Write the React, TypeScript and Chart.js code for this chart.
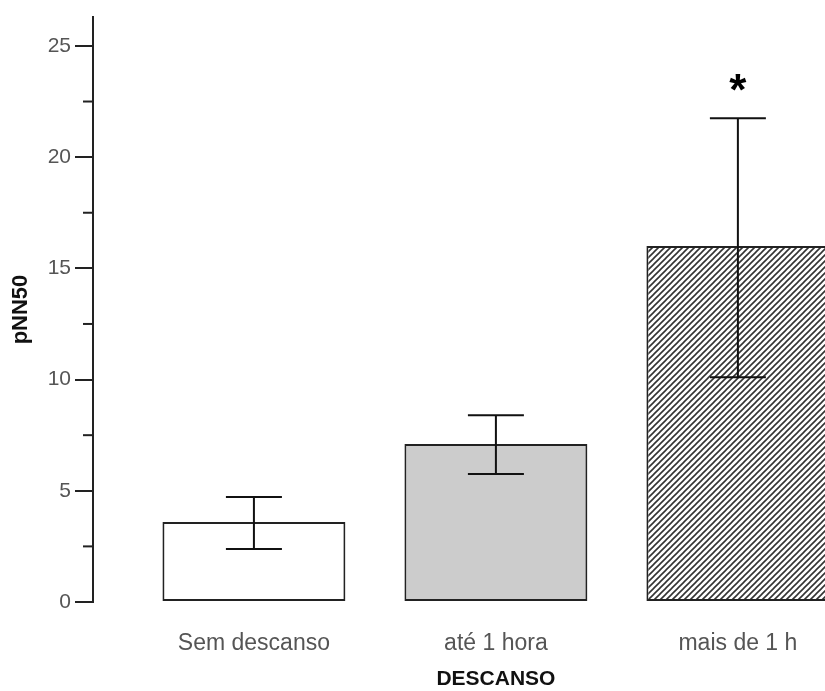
import React, { useEffect, useRef } from "react";
import { Chart, registerables } from "chart.js";

Chart.register(...registerables);

const categories = ["Sem descanso", "até 1 hora", "mais de 1 h"];
const means = [3.6, 7.1, 16.0];
const errLow = [2.38, 5.75, 10.1];
const errHigh = [4.72, 8.4, 21.75];
const significant = [false, false, true];
const majorTicks = [0, 5, 10, 15, 20, 25];
const minorTicks = [2.5, 7.5, 12.5, 17.5, 22.5];
const yTitle = "pNN50";
const xTitle = "DESCANSO";

const FONT = "'Liberation Sans', Arial, sans-serif";

function makeHatch(): CanvasPattern | string {
  const c = document.createElement("canvas");
  c.width = 6;
  c.height = 6;
  const g = c.getContext("2d");
  if (!g) return "#999";
  g.fillStyle = "#ffffff";
  g.fillRect(0, 0, 6, 6);
  g.strokeStyle = "#333333";
  g.lineWidth = 1.6;
  g.beginPath();
  g.moveTo(-1, 7);
  g.lineTo(7, -1);
  g.moveTo(-1, 1);
  g.lineTo(1, -1);
  g.moveTo(5, 7);
  g.lineTo(7, 5);
  g.stroke();
  const p = g.createPattern(c, "repeat");
  return p || "#999";
}

export default function App() {
  const ref = useRef<HTMLCanvasElement>(null);
  useEffect(() => {
    if (!ref.current) return;
    const hatch = makeHatch();
    const fills = ["#ffffff", "#cccccc", hatch];

    const extras = {
      id: "extras",
      afterDatasetsDraw(chart: any) {
        const ctx = chart.ctx;
        const xs = chart.scales.x;
        const ys = chart.scales.y;
        ctx.save();
        ctx.strokeStyle = "#222";
        ctx.lineWidth = 2;
        minorTicks.forEach((v) => {
          const py = ys.getPixelForValue(v);
          ctx.beginPath();
          ctx.moveTo(chart.chartArea.left - 10, py);
          ctx.lineTo(chart.chartArea.left, py);
          ctx.stroke();
        });
        ctx.strokeStyle = "#111";
        ctx.lineWidth = 2;
        means.forEach((_, i) => {
          const cx = xs.getPixelForValue(i);
          const yl = ys.getPixelForValue(errLow[i]);
          const yh = ys.getPixelForValue(errHigh[i]);
          ctx.beginPath();
          ctx.moveTo(cx, yl);
          ctx.lineTo(cx, yh);
          ctx.moveTo(cx - 28, yl);
          ctx.lineTo(cx + 28, yl);
          ctx.moveTo(cx - 28, yh);
          ctx.lineTo(cx + 28, yh);
          ctx.stroke();
          if (significant[i]) {
            ctx.fillStyle = "#000";
            ctx.font = `bold 44px ${FONT}`;
            ctx.textAlign = "center";
            ctx.textBaseline = "middle";
            ctx.fillText("*", cx, yh - 25);
          }
        });
        // x axis title, centred under the middle category
        ctx.fillStyle = "#111";
        ctx.font = `bold 21px ${FONT}`;
        ctx.textAlign = "center";
        ctx.textBaseline = "middle";
        ctx.fillText(xTitle, xs.getPixelForValue(1), xs.bottom - 12);
        ctx.restore();
      },
    };

    const chart = new Chart(ref.current, {
      type: "bar",
      data: {
        datasets: [
          {
            data: means.map((v, i) => ({ x: i, y: v })),
            backgroundColor: fills as any,
            borderColor: "#222",
            borderWidth: 2,
            borderSkipped: false,
            barPercentage: 0.756,
            categoryPercentage: 1,
          },
        ],
      },
      options: {
        animation: false,
        responsive: false,
        layout: { padding: { top: 17, right: 0, left: 0, bottom: 0 } },
        plugins: {
          legend: { display: false },
          tooltip: { enabled: false },
        },
        scales: {
          x: {
            type: "linear",
            offset: false,
            min: -0.665,
            max: 2.36,
            afterBuildTicks: (s: any) => {
              s.ticks = [0, 1, 2].map((v) => ({ value: v }));
            },
            afterFit: (s: any) => {
              s.height = 89;
            },
            grid: { display: false },
            border: { display: false },
            ticks: {
              callback: (v: any) => categories[v as number] ?? "",
              color: "#555",
              font: { family: FONT, size: 23 },
              padding: 20,
              maxRotation: 0,
              autoSkip: false,
            },
            title: { display: false },
          },
          y: {
            min: 0,
            max: 26.3,
            afterBuildTicks: (s: any) => {
              s.ticks = majorTicks.map((v) => ({ value: v }));
            },
            afterFit: (s: any) => {
              s.width = 93;
            },
            grid: {
              drawOnChartArea: false,
              drawTicks: true,
              tickLength: 18,
              color: "#222",
              lineWidth: 2,
            },
            border: { display: true, color: "#222", width: 2 },
            ticks: {
              color: "#555",
              font: { family: FONT, size: 21 },
              padding: 4,
            },
            title: {
              display: true,
              text: yTitle,
              color: "#111",
              font: { family: FONT, size: 22, weight: "bold" },
              padding: { top: 8, bottom: 0 },
            },
          },
        },
      },
      plugins: [extras],
    });
    return () => chart.destroy();
  }, []);

  return (
    <div style={{ position: "fixed", left: 0, top: 0, width: 825, height: 691, overflow: "hidden", background: "#fff" }}>
      <canvas ref={ref} width={825} height={691} style={{ display: "block" }} />
    </div>
  );
}
